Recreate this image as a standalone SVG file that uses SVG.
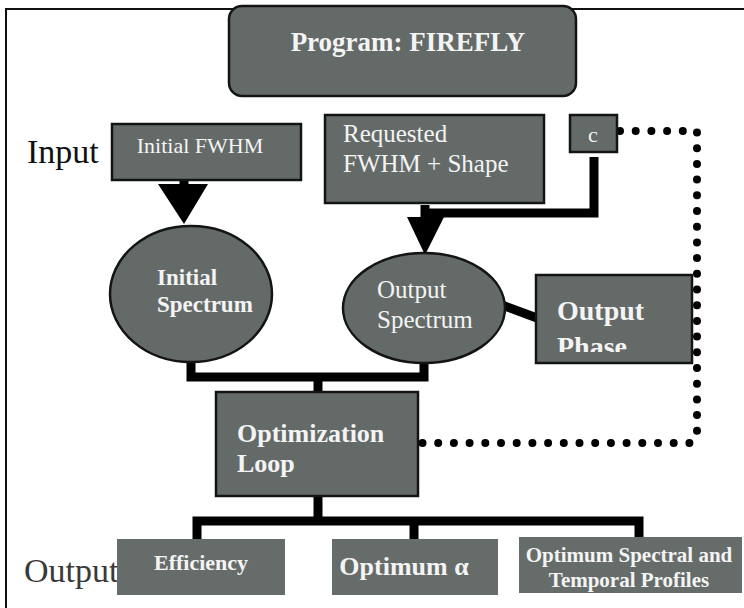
<svg xmlns="http://www.w3.org/2000/svg" width="744" height="608" viewBox="0 0 744 608">
<defs>
<style>
.box{fill:#646a68;stroke:#141414;stroke-width:2.5}
.nb{fill:#666c6a;stroke:none}
.tw{fill:#f4f4f4;font-family:"Liberation Serif","Times New Roman",serif}
.b{font-weight:bold}
.lbl{fill:#111;font-family:"Liberation Serif","Times New Roman",serif}
.wire{fill:none;stroke:#000;stroke-width:9}
.dots{fill:none;stroke:#000;stroke-width:8;stroke-linecap:round;stroke-dasharray:0 15.7}
</style>
<clipPath id="phaseClip"><rect x="536" y="275" width="156" height="77"/></clipPath>
</defs>
<rect width="744" height="608" fill="#fff"/>
<g id="frame" stroke="#111" stroke-width="2" fill="none">
<path d="M6 608 V9 H744"/>
</g>
<g id="connectors">
<path class="dots" d="M620 131 H697 V436 L690 443 H416"/>
<path class="wire" d="M594 157 V213 H425"/>
<path class="wire" d="M425 205 V220"/>
<polygon points="407,217 444,217 425,255" fill="#000"/>
<path class="wire" d="M184 180 V186" stroke-width="12"/>
<polygon points="158,184 208,184 184,224" fill="#000"/>
<path class="wire" d="M502 305 L537 318"/>
<path class="wire" d="M191 360 V377 H424 V360"/>
<path class="wire" d="M318 377 V393" stroke-width="8"/>
<path class="wire" d="M318 496 V521" stroke-width="8"/>
<path class="wire" d="M197 540 V521 H639 V538" stroke-width="8"/>
<path class="wire" d="M414 521 V540" stroke-width="8"/>
</g>
<g id="program">
<rect class="box" x="229" y="6" width="347" height="90" rx="13"/>
<text class="tw b" x="408" y="51" font-size="27" text-anchor="middle">Program: FIREFLY</text>
</g>
<g id="input-label">
<text class="lbl" x="27" y="163" font-size="34">Input</text>
</g>
<g id="initial-fwhm">
<rect class="box" x="112" y="124" width="189" height="56"/>
<text class="tw" x="200" y="153" font-size="22" text-anchor="middle">Initial FWHM</text>
</g>
<g id="requested">
<rect class="box" x="325" y="115" width="219" height="88"/>
<text class="tw" x="343" y="142" font-size="25">Requested</text>
<text class="tw" x="343" y="172" font-size="25">FWHM + Shape</text>
</g>
<g id="c">
<rect class="box" x="570" y="115" width="47" height="37"/>
<text class="tw" x="593" y="142" font-size="22" text-anchor="middle">c</text>
</g>
<g id="initial-spectrum">
<ellipse class="box" cx="191" cy="294" rx="81" ry="68"/>
<text class="tw b" x="157" y="285" font-size="23">Initial</text>
<text class="tw b" x="157" y="312" font-size="23">Spectrum</text>
</g>
<g id="output-spectrum">
<ellipse class="box" cx="424" cy="308" rx="81" ry="55"/>
<text class="tw" x="377" y="298" font-size="25">Output</text>
<text class="tw" x="377" y="328" font-size="25">Spectrum</text>
</g>
<g id="output-phase">
<rect class="box" x="536" y="275" width="156" height="88"/>
<g clip-path="url(#phaseClip)">
<text class="tw b" x="557" y="320" font-size="28">Output</text>
<text class="tw b" x="557" y="356" font-size="28">Phase</text>
</g>
</g>
<g id="optimization">
<rect class="box" x="216" y="392" width="202" height="104"/>
<text class="tw b" x="237" y="442" font-size="26">Optimization</text>
<text class="tw b" x="237" y="472" font-size="26">Loop</text>
</g>
<g id="output-label">
<text x="24" y="582" font-size="34" fill="#3a3a3a" font-family="'Liberation Serif','Times New Roman',serif">Output</text>
</g>
<g id="efficiency">
<rect class="nb" x="117" y="539" width="168" height="56"/>
<text class="tw b" x="201" y="570" font-size="22" text-anchor="middle">Efficiency</text>
</g>
<g id="optimum-alpha">
<rect class="nb" x="332" y="539" width="166" height="56"/>
<text class="tw b" x="404" y="575" font-size="26" text-anchor="middle">Optimum α</text>
</g>
<g id="optimum-profiles">
<rect class="nb" x="519" y="537" width="223" height="56"/>
<text class="tw b" x="629" y="562" font-size="21" text-anchor="middle">Optimum Spectral and</text>
<text class="tw b" x="629" y="587" font-size="21" text-anchor="middle">Temporal Profiles</text>
</g>
</svg>
